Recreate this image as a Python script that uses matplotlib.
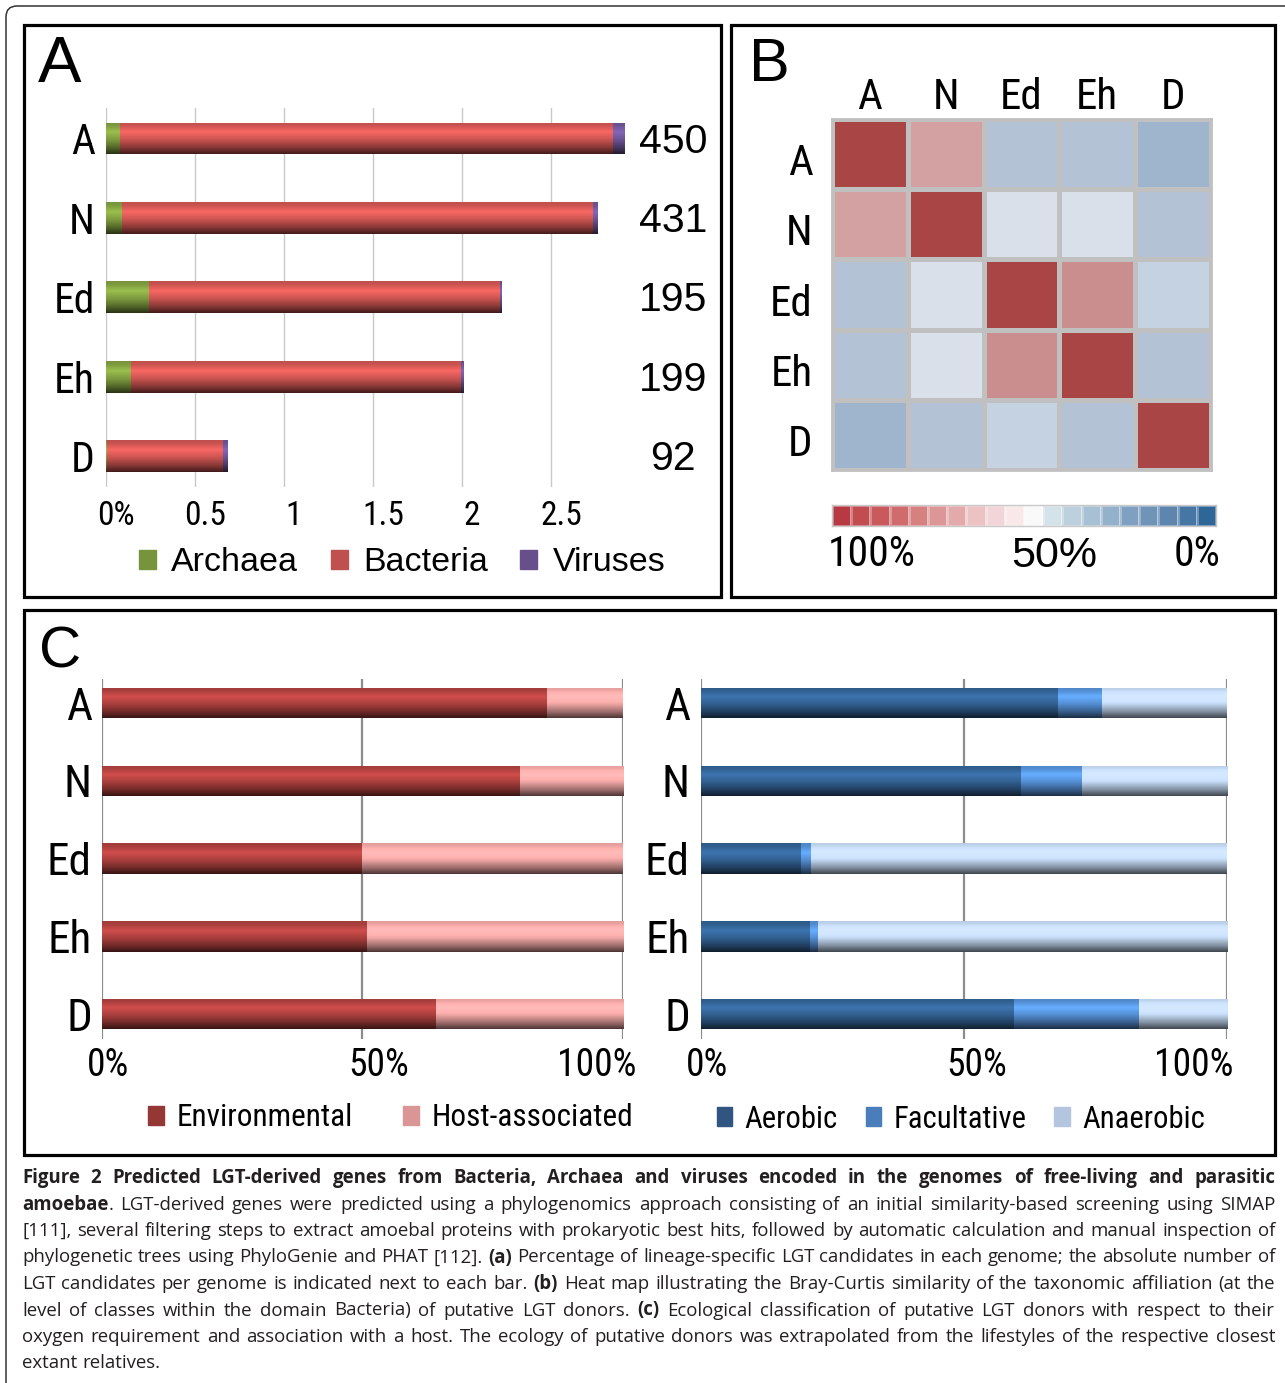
import numpy as np
import matplotlib
matplotlib.use("Agg")
import matplotlib.pyplot as plt
import matplotlib.colors as mcolors
import matplotlib.transforms as mtransforms
from matplotlib.patches import Patch, Rectangle, FancyBboxPatch
from matplotlib.font_manager import fontManager

# ---------------------------------------------------------------
# data
# ---------------------------------------------------------------
genomes = ['A', 'N', 'Ed', 'Eh', 'D']

# panel A: percentage of LGT candidates per genome, split by donor domain
archaea = [0.08, 0.09, 0.24, 0.14, 0.005]
bacteria = [2.77, 2.645, 1.975, 1.855, 0.65]
viruses = [0.065, 0.025, 0.01, 0.015, 0.025]
lgt_counts = [450, 431, 195, 199, 92]
a_ticks = [0, 0.5, 1, 1.5, 2, 2.5]
a_ticklabels = ['0%', '0.5', '1', '1.5', '2', '2.5']

# panel B: Bray-Curtis similarity (%)
similarity = [
    [100, 75, 35, 35, 30],
    [75, 100, 45, 45, 35],
    [35, 45, 100, 78, 40],
    [35, 45, 78, 100, 35],
    [30, 35, 40, 35, 100],
]
cbar_colors = ['#b73a42', '#c24c50', '#c85a5c', '#cf6b6d', '#d6807f',
               '#dd9697', '#e4aaab', '#ecc2c3', '#f2d5d8', '#f8e8e9',
               '#f9f9f9', '#d4e2ea', '#bcd0de', '#a7c0d3', '#93b1ca',
               '#7fa0c0', '#6f94b8', '#5d85ae', '#4676a4', '#2e6698']

# panel C: ecology of donors (%)
environmental = [85.5, 80.2, 50.0, 50.9, 64.1]
host_associated = [14.5, 19.8, 50.0, 49.1, 35.9]
aerobic = [67.9, 60.8, 19.0, 20.7, 59.5]
facultative = [8.4, 11.6, 2.0, 1.5, 23.7]
anaerobic = [23.7, 27.6, 79.0, 77.8, 16.8]
c_ticks = [0, 50, 100]
c_ticklabels = ['0%', '50%', '100%']

caption_lines = [
    "**Figure 2 Predicted LGT-derived genes from Bacteria, Archaea and viruses encoded in the genomes of free-living and parasitic**",
    "**amoebae**. LGT-derived genes were predicted using a phylogenomics approach consisting of an initial similarity-based screening using SIMAP",
    "[111], several filtering steps to extract amoebal proteins with prokaryotic best hits, followed by automatic calculation and manual inspection of",
    "phylogenetic trees using PhyloGenie and PHAT [112]. **(a)** Percentage of lineage-specific LGT candidates in each genome; the absolute number of",
    "LGT candidates per genome is indicated next to each bar. **(b)** Heat map illustrating the Bray-Curtis similarity of the taxonomic affiliation (at the",
    "level of classes within the domain Bacteria) of putative LGT donors. **(c)** Ecological classification of putative LGT donors with respect to their",
    "oxygen requirement and association with a host. The ecology of putative donors was extrapolated from the lifestyles of the respective closest",
    "extant relatives.",
]

# colours
C_ARCH, C_BACT, C_VIR = '#77933c', '#c0504d', '#674f8c'
C_ENV, C_HOST = '#a03c3a', '#e29d9b'
C_AER, C_FAC, C_ANA = '#2f5a88', '#4f86c6', '#b9cde5'

# ---------------------------------------------------------------
# fonts: a narrow sans for the chart labels if one is installed
# ---------------------------------------------------------------
entries = [(f.name, str(f.stretch)) for f in fontManager.ttflist]
names = {n for n, _ in entries}
REG = 'Liberation Sans' if 'Liberation Sans' in names else 'DejaVu Sans'
if 'Liberation Sans Narrow' in names:
    NK, NS, LS = {'family': 'Liberation Sans Narrow'}, 1.0, 1.0
elif 'Roboto Condensed' in names:
    NK, NS, LS = {'family': 'Roboto Condensed'}, 1.0, 0.9
elif ('DejaVu Sans', 'condensed') in entries:
    NK, NS, LS = {'family': 'DejaVu Sans', 'stretch': 'condensed'}, 0.97, 0.85
else:
    NK, NS, LS = {'family': REG}, 0.92, 0.82
CAP = 'Open Sans' if 'Open Sans' in names else 'DejaVu Sans'

W, H = 1285, 1383
fig = plt.figure(figsize=(W / 100, H / 100), dpi=100)


def box(l, t, r, b):
    return [l / W, 1 - b / H, (r - l) / W, (b - t) / H]


def fx(x):
    return x / W


def fy(y):
    return 1 - y / H


def shade_color(rgb, k):
    h, s, v = mcolors.rgb_to_hsv(rgb)
    v2 = v * k
    if v2 > 1:
        s = s / v2
        v2 = 1.0
    return mcolors.hsv_to_rgb([h, s, v2])


PROFILE_T = [0, 0.1, 0.3, 0.55, 0.8, 1.0]
PROFILE_K = [1.0, 1.05, 1.3, 1.05, 0.7, 0.35]


def add_gloss(ax, bars):
    # excel-like glossy gradient on each bar
    ts = np.linspace(0, 1, 48)
    ks = np.interp(ts, PROFILE_T, PROFILE_K)
    for b in bars:
        w = b.get_width()
        if w <= 0:
            continue
        base = mcolors.to_rgb(b.get_facecolor())
        img = np.array([shade_color(base, k) for k in ks])[:, None, :]
        x0, y0, h = b.get_x(), b.get_y(), b.get_height()
        im = ax.imshow(img, extent=(x0, x0 + w, y0 + h, y0), aspect='auto',
                       interpolation='bilinear', zorder=b.get_zorder() + 0.1)
        im.set_clip_path(b)


def shift_xlabels(ax, offsets, has):
    for lab, dx, ha in zip(ax.get_xticklabels(), offsets, has):
        lab.set_ha(ha)
        lab.set_transform(lab.get_transform() +
                          mtransforms.ScaledTranslation(dx / 100, 0, fig.dpi_scale_trans))


def frame(l, t, r, b, lw=2.3):
    fig.add_artist(Rectangle((fx(l), fy(b)), (r - l) / W, (b - t) / H,
                             transform=fig.transFigure, fill=False, ec='black', lw=lw))


# outer rounded border and panel frames
fig.add_artist(FancyBboxPatch((6, -30), 1320, H - 6 + 30,
                              boxstyle='round,pad=0,rounding_size=11',
                              transform=mtransforms.IdentityTransform(),
                              fill=False, ec='#333333', lw=1.1))
frame(24, 25, 721, 597)
frame(731, 25, 1275, 597)
frame(24, 610, 1275, 1155)

y = np.arange(len(genomes))

# ===============================================================
# Panel A
# ===============================================================
axA = fig.add_axes(box(106, 108, 640, 486.5))
left2 = np.add(archaea, bacteria)
bA1 = axA.barh(y, archaea, height=0.4, color=C_ARCH, zorder=2)
bA2 = axA.barh(y, bacteria, left=archaea, height=0.4, color=C_BACT, zorder=2)
bA3 = axA.barh(y, viruses, left=left2, height=0.4, color=C_VIR, zorder=2)
for bars in (bA1, bA2, bA3):
    add_gloss(axA, bars)
axA.set_xlim(0, 3)
axA.set_ylim(4.384, -0.384)
axA.set_xticks(a_ticks, a_ticklabels, fontsize=24 * NS, **NK)
axA.set_yticks(y, genomes, fontsize=30, **NK)
axA.tick_params(length=0)
axA.tick_params(axis='x', pad=10)
axA.tick_params(axis='y', pad=8)
axA.grid(axis='x', color='#c8c8c8', lw=1)
axA.set_axisbelow(True)
for s in axA.spines.values():
    s.set_visible(False)
shift_xlabels(axA, [10] * 6, ['center'] * 6)
tr = mtransforms.blended_transform_factory(fig.transFigure, axA.transData)
for yi, n in zip(y, lgt_counts):
    axA.text(fx(673), yi + 0.04, str(n), transform=tr, ha='center', va='center',
             family=REG, fontsize=29.5, clip_on=False)
axA.legend([Patch(color=C_ARCH), Patch(color=C_BACT), Patch(color=C_VIR)],
           ['Archaea', 'Bacteria', 'Viruses'], loc='center',
           bbox_to_anchor=(fx(402), fy(563)), bbox_transform=fig.transFigure,
           ncol=3, frameon=False, prop={'family': REG, 'size': 24.5},
           handlelength=0.5, handleheight=0.5, handletextpad=0.45,
           columnspacing=0.95, borderpad=0, borderaxespad=0)
fig.text(fx(38), fy(82), 'A', family=REG, fontsize=47, va='baseline')

# ===============================================================
# Panel B
# ===============================================================
heat_cmap = mcolors.LinearSegmentedColormap.from_list('bc', [
    (0.0, '#2e6698'), (0.30, '#a0b5cd'), (0.35, '#b3c3d5'), (0.40, '#c5d2e1'),
    (0.45, '#d9e0ea'), (0.50, '#f7f7f7'), (0.75, '#d4a3a3'), (0.78, '#ca8e8e'),
    (1.0, '#a94545')])
axB = fig.add_axes(box(832, 119, 1211, 470))
axB.pcolormesh(np.array(similarity) / 100, cmap=heat_cmap, vmin=0, vmax=1,
               edgecolors='#c0c0c0', linewidth=2.5)
axB.set_xlim(0, 5)
axB.set_ylim(5, 0)
axB.xaxis.tick_top()
axB.set_xticks(y + 0.5, genomes, fontsize=31, **NK)
axB.set_yticks(y + 0.5, genomes, fontsize=31, **NK)
axB.tick_params(length=0)
axB.tick_params(axis='x', pad=1)
axB.tick_params(axis='y', pad=14)
for lab in axB.get_yticklabels():
    lab.set_transform(lab.get_transform() +
                      mtransforms.ScaledTranslation(0, -0.05, fig.dpi_scale_trans))
for s in axB.spines.values():
    s.set_color('#c0c0c0')
    s.set_linewidth(2)

cax = fig.add_axes(box(832, 505, 1216, 525.5))
cax.pcolormesh(np.arange(len(cbar_colors))[None, :],
               cmap=mcolors.ListedColormap(cbar_colors),
               edgecolors=(1, 1, 1, 0.3), linewidth=0.8)
cax.set_xticks([])
cax.set_yticks([])
for s in cax.spines.values():
    s.set_color('#c8c8c8')
    s.set_linewidth(1)
fig.text(fx(872), fy(555), '100%', ha='center', va='center', fontsize=30 * NS, **NK)
fig.text(fx(1054), fy(556), '50%', ha='center', va='center', family=REG, fontsize=31)
fig.text(fx(1197), fy(555), '0%', ha='center', va='center', fontsize=30 * NS, **NK)
fig.text(fx(749), fy(81), 'B', family=REG, fontsize=44, va='baseline')

# ===============================================================
# Panel C
# ===============================================================


def style_c(ax, offsets, has, ypad):
    ax.set_xlim(0, 100)
    ax.set_ylim(4.32, -0.31)
    ax.set_xticks(c_ticks, c_ticklabels, fontsize=27 * NS, **NK)
    ax.set_yticks(y, genomes, fontsize=32.5, **NK)
    ax.tick_params(length=0)
    ax.tick_params(axis='x', pad=6)
    ax.tick_params(axis='y', pad=ypad)
    ax.grid(axis='x', color='#8c8c8c', lw=1.6)
    ax.set_axisbelow(True)
    for s in ax.spines.values():
        s.set_visible(False)
    shift_xlabels(ax, offsets, has)


axC1 = fig.add_axes(box(101.6, 679, 623, 1039))
bC1 = axC1.barh(y, environmental, height=0.39, color=C_ENV, zorder=2)
bC2 = axC1.barh(y, host_associated, left=environmental, height=0.39, color=C_HOST, zorder=2)
for bars in (bC1, bC2):
    add_gloss(axC1, bars)
style_c(axC1, [6, 16, 13], ['center', 'center', 'right'], 7)
axC1.legend([Patch(color='#953735'), Patch(color='#d99694')],
            ['Environmental', 'Host-associated'], loc='center',
            bbox_to_anchor=(fx(391), fy(1118)), bbox_transform=fig.transFigure,
            ncol=2, frameon=False, prop=dict(NK, size=25 * LS),
            handlelength=0.5, handleheight=0.58, handletextpad=0.42,
            columnspacing=1.6, borderpad=0, borderaxespad=0)

axC2 = fig.add_axes(box(701, 679, 1227, 1039))
left_ana = np.add(aerobic, facultative)
bC3 = axC2.barh(y, aerobic, height=0.39, color=C_AER, zorder=2)
bC4 = axC2.barh(y, facultative, left=aerobic, height=0.39, color=C_FAC, zorder=2)
bC5 = axC2.barh(y, anaerobic, left=left_ana, height=0.39, color=C_ANA, zorder=2)
for bars in (bC3, bC4, bC5):
    add_gloss(axC2, bars)
style_c(axC2, [6, 13, 6], ['center', 'center', 'right'], 8)
axC2.legend([Patch(color='#2f5580'), Patch(color='#4a7ebb'), Patch(color='#b3c6de')],
            ['Aerobic', 'Facultative', 'Anaerobic'], loc='center',
            bbox_to_anchor=(fx(961), fy(1119)), bbox_transform=fig.transFigure,
            ncol=3, frameon=False, prop=dict(NK, size=24.5 * LS),
            handlelength=0.5, handleheight=0.58, handletextpad=0.42,
            columnspacing=0.9, borderpad=0, borderaxespad=0)
fig.text(fx(39), fy(667), 'C', family=REG, fontsize=42, va='baseline')

# ===============================================================
# Caption (justified)
# ===============================================================


def parse_words(line):
    words = []
    new_word = True
    for i, seg in enumerate(line.split('**')):
        bold = i % 2 == 1
        for j, p in enumerate(seg.split(' ')):
            if j > 0:
                new_word = True
            if p == '':
                continue
            if new_word or not words:
                words.append([(p, bold)])
                new_word = False
            else:
                words[-1].append((p, bold))
    return words


renderer = fig.canvas.get_renderer()


def measure(text, bold, size):
    t = fig.text(0, 0, text, family=CAP, fontsize=size,
                 weight='bold' if bold else 'normal')
    w = t.get_window_extent(renderer).width
    t.remove()
    return w


x_left, x_right = 22, 1275
lines = [parse_words(l) for l in caption_lines]
base = 12
space = measure('a a', False, base) - measure('aa', False, base)
natural = []
for words in lines[:-1]:
    natural.append(sum(measure(p, b, base) for word in words for p, b in word)
                   + space * (len(words) - 1))
cap_size = base * (x_right - x_left) / max(natural) * 0.99
space = space * cap_size / base

for i, words in enumerate(lines):
    yy = fy(1183 + 26.5 * i)
    widths = [[measure(p, b, cap_size) for p, b in word] for word in words]
    total = sum(sum(ws) for ws in widths)
    if i < len(lines) - 1:
        gap = (x_right - x_left - total) / (len(words) - 1)
    else:
        gap = space
    x = x_left
    for word, ws in zip(words, widths):
        for (p, b), w in zip(word, ws):
            fig.text(fx(x), yy, p, family=CAP, fontsize=cap_size,
                     weight='bold' if b else 'normal', va='baseline', ha='left',
                     color='#231f20')
            x += w
        x += gap

fig.savefig('out.png', dpi=100)
